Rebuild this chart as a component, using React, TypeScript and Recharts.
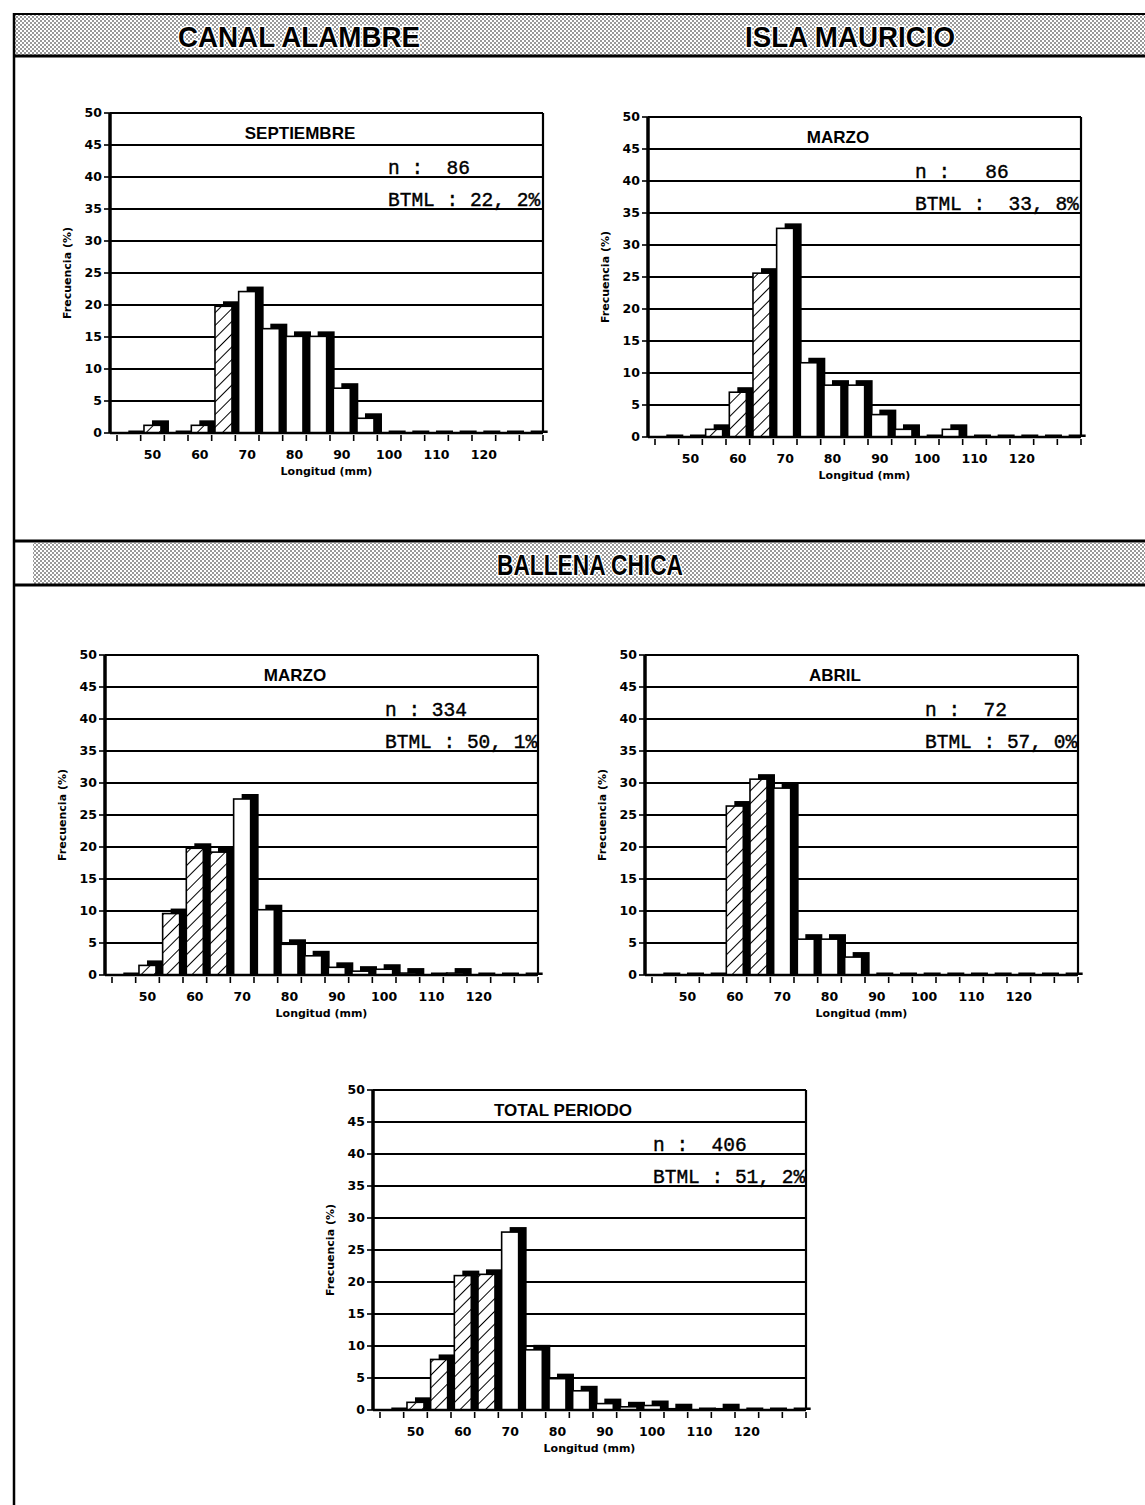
import React from "react";
import { BarChart, Bar, XAxis, YAxis, CartesianGrid, ReferenceLine } from "recharts";

// length classes (mm), 5 mm bins
const lengths = [45, 50, 55, 60, 65, 70, 75, 80, 85, 90, 95, 100, 105, 110, 115, 120, 125, 130];
const yTicks = [0, 5, 10, 15, 20, 25, 30, 35, 40, 45, 50];
const LEGAL_SIZE = 70;

// frequency (%) per length class
const canalSeptiembre = [0, 1.2, 0, 1.2, 19.8, 22.1, 16.3, 15.1, 15.1, 7.0, 2.3, 0, 0, 0, 0, 0, 0, 0];
const mauricioMarzo = [0, 0, 1.2, 7.0, 25.6, 32.6, 11.6, 8.1, 8.1, 3.5, 1.2, 0, 1.2, 0, 0, 0, 0, 0];
const ballenaMarzo = [0, 1.5, 9.6, 19.8, 19.2, 27.5, 10.2, 4.8, 3.0, 1.2, 0.6, 0.9, 0.3, 0, 0.3, 0, 0, 0];
const ballenaAbril = [0, 0, 0, 26.4, 30.6, 29.2, 5.6, 5.6, 2.8, 0, 0, 0, 0, 0, 0, 0, 0, 0];
const ballenaTotal = [0, 1.2, 7.9, 21.0, 21.2, 27.8, 9.4, 4.9, 3.0, 1.0, 0.5, 0.7, 0.2, 0, 0.2, 0, 0, 0];

const PLOT_W = 433;
const PLOT_H = 320;
const Y_AXIS_W = 55;
const FRAME_W = 1;
const TOP = 10;
const RIGHT = 10;
const X_AXIS_H = 50;
const PAD_LEFT = 7;
const CHART_W = Y_AXIS_W + PLOT_W + FRAME_W + RIGHT;
const CHART_H = TOP + PLOT_H + X_AXIS_H;
const BAND = (PLOT_W - PAD_LEFT) / lengths.length;

const panels = [
  { id: "sep", title: "SEPTIEMBRE", n: "n :  86", btml: "BTML : 22, 2%", values: canalSeptiembre, plotLeft: 110, plotTop: 113, textDx: 278 },
  { id: "mau", title: "MARZO", n: "n :   86", btml: "BTML :  33, 8%", values: mauricioMarzo, plotLeft: 648, plotTop: 117, textDx: 267 },
  { id: "bmar", title: "MARZO", n: "n : 334", btml: "BTML : 50, 1%", values: ballenaMarzo, plotLeft: 105, plotTop: 655, textDx: 280 },
  { id: "babr", title: "ABRIL", n: "n :  72", btml: "BTML : 57, 0%", values: ballenaAbril, plotLeft: 645, plotTop: 655, textDx: 280 },
  { id: "btot", title: "TOTAL PERIODO", n: "n :  406", btml: "BTML : 51, 2%", values: ballenaTotal, plotLeft: 373, plotTop: 1090, textDx: 280 },
];

const tickFont = { fontFamily: "DejaVu Sans", fontWeight: 700, fontSize: 12.5, fill: "#000" };

function makeBarShape(patternId: string) {
  return (props: any) => {
    const { x, y, width, height, payload } = props;
    const hatched = payload.len < LEGAL_SIZE;
    const dy = height > 0 ? 5 : 2.5;
    return (
      <g>
        <rect x={x + 8} y={y - dy} width={width} height={height + dy} fill="#000" />
        {height > 0 && (
          <rect
            x={x}
            y={y}
            width={width}
            height={height}
            fill={hatched ? `url(#${patternId})` : "#fff"}
            stroke="#000"
            strokeWidth={1.6}
          />
        )}
      </g>
    );
  };
}

function XTick(props: any) {
  const { x, y, payload } = props;
  const v = payload.value;
  const left = x - BAND / 2;
  const last = v === lengths[lengths.length - 1];
  return (
    <g>
      <line x1={left} x2={left} y1={y} y2={y + 6} stroke="#000" strokeWidth={1.6} />
      {last && <line x1={x + BAND / 2} x2={x + BAND / 2} y1={y} y2={y + 6} stroke="#000" strokeWidth={1.6} />}
      {v % 10 === 0 && v <= 120 && (
        <text x={x} y={y + 24} textAnchor="middle" {...tickFont}>
          {v}
        </text>
      )}
    </g>
  );
}

function Panel({ p }: { p: (typeof panels)[number] }) {
  const data = lengths.map((len, i) => ({ len, v: p.values[i] }));
  const patternId = `hatch-${p.id}`;
  const monoStyle = {
    fontFamily: "Liberation Mono",
    fontSize: 19.5,
    fill: "#000",
    stroke: "#000",
    strokeWidth: 0.4,
    whiteSpace: "pre" as const,
  };
  return (
    <div style={{ position: "absolute", left: p.plotLeft - Y_AXIS_W, top: p.plotTop - TOP }}>
      <BarChart
        width={CHART_W}
        height={CHART_H}
        data={data}
        margin={{ top: TOP, right: RIGHT, bottom: 0, left: 0 }}
        barCategoryGap="14%"
      >
        <defs>
          <pattern id={patternId} width={9} height={9} patternUnits="userSpaceOnUse" patternTransform="rotate(45)">
            <rect width={9} height={9} fill="#fff" />
            <line x1={0} y1={0} x2={0} y2={9} stroke="#000" strokeWidth={2} />
          </pattern>
        </defs>
        <CartesianGrid vertical={false} stroke="#000" strokeWidth={1.8} strokeOpacity={1} />
        <XAxis
          dataKey="len"
          interval={0}
          height={X_AXIS_H}
          tickSize={0}
          tickLine={false}
          padding={{ left: PAD_LEFT, right: 0 }}
          axisLine={{ stroke: "#000", strokeWidth: 2.4 }}
          tick={XTick}
          label={{
            value: "Longitud (mm)",
            position: "insideBottom",
            offset: 8,
            style: { fontFamily: "DejaVu Sans", fontWeight: 700, fontSize: 11, fill: "#000" },
          }}
        />
        <YAxis
          type="number"
          domain={[0, 50]}
          ticks={yTicks}
          interval={0}
          width={Y_AXIS_W}
          tickSize={6}
          tickMargin={2}
          tick={tickFont}
          tickLine={{ stroke: "#000", strokeWidth: 1.6 }}
          axisLine={{ stroke: "#000", strokeWidth: 3.5 }}
          label={{
            value: "Frecuencia (%)",
            angle: -90,
            position: "insideLeft",
            offset: 12,
            style: { textAnchor: "middle", fontFamily: "DejaVu Sans", fontWeight: 700, fontSize: 11, fill: "#000" },
          }}
        />
        <YAxis
          yAxisId="frame"
          orientation="right"
          type="number"
          domain={[0, 50]}
          width={FRAME_W}
          tick={false}
          tickLine={false}
          axisLine={{ stroke: "#000", strokeWidth: 2.2 }}
        />
        <Bar dataKey="v" isAnimationActive={false} shape={makeBarShape(patternId)} />
        <ReferenceLine
          y={45}
          stroke="none"
          label={(lp: any) => (
            <text
              x={lp.viewBox.x + 190}
              y={lp.viewBox.y - 6}
              textAnchor="middle"
              fontFamily="Liberation Sans"
              fontWeight={700}
              fontSize={17}
              fill="#000"
            >
              {p.title}
            </text>
          )}
        />
        <ReferenceLine
          y={40}
          stroke="none"
          label={(lp: any) => (
            <text x={lp.viewBox.x + p.textDx} y={lp.viewBox.y - 3} style={monoStyle}>
              {p.n}
            </text>
          )}
        />
        <ReferenceLine
          y={35}
          stroke="none"
          label={(lp: any) => (
            <text x={lp.viewBox.x + p.textDx} y={lp.viewBox.y - 3} style={monoStyle}>
              {p.btml}
            </text>
          )}
        />
      </BarChart>
    </div>
  );
}

function Banners() {
  const bannerText = {
    fontFamily: "Liberation Sans Narrow, Liberation Sans",
    fontWeight: 700,
    fontSize: 30,
    fill: "#000",
    stroke: "#fff",
    strokeWidth: 3,
    paintOrder: "stroke" as const,
  };
  return (
    <svg width={1145} height={1505} style={{ position: "absolute", left: 0, top: 0 }}>
      <defs>
        <pattern id="dots" width={4} height={4} patternUnits="userSpaceOnUse">
          <rect width={4} height={4} fill="#fff" />
          <circle cx={1} cy={1} r={0.75} fill="#000" />
          <circle cx={3} cy={3} r={0.75} fill="#000" />
        </pattern>
      </defs>
      <rect x={15} y={14} width={1130} height={42} fill="url(#dots)" />
      <line x1={14} x2={1145} y1={14} y2={14} stroke="#000" strokeWidth={2} />
      <line x1={14} x2={1145} y1={56} y2={56} stroke="#000" strokeWidth={3} />
      <line x1={14} x2={14} y1={13} y2={1505} stroke="#000" strokeWidth={2.5} />
      <text x={299} y={47} textAnchor="middle" textLength={242} lengthAdjust="spacingAndGlyphs" style={bannerText}>
        CANAL ALAMBRE
      </text>
      <text x={850} y={47} textAnchor="middle" textLength={210} lengthAdjust="spacingAndGlyphs" style={bannerText}>
        ISLA MAURICIO
      </text>
      <rect x={33} y={543} width={1112} height={42} fill="url(#dots)" />
      <line x1={14} x2={1145} y1={541} y2={541} stroke="#000" strokeWidth={3} />
      <line x1={14} x2={1145} y1={585} y2={585} stroke="#000" strokeWidth={3} />
      <text x={590} y={575} textAnchor="middle" textLength={186} lengthAdjust="spacingAndGlyphs" style={bannerText}>
        BALLENA CHICA
      </text>
    </svg>
  );
}

export default function App() {
  return (
    <div style={{ position: "absolute", left: 0, top: 0, width: 1145, height: 1505, background: "#fff", overflow: "hidden" }}>
      <Banners />
      {panels.map((p) => (
        <Panel key={p.id} p={p} />
      ))}
    </div>
  );
}
